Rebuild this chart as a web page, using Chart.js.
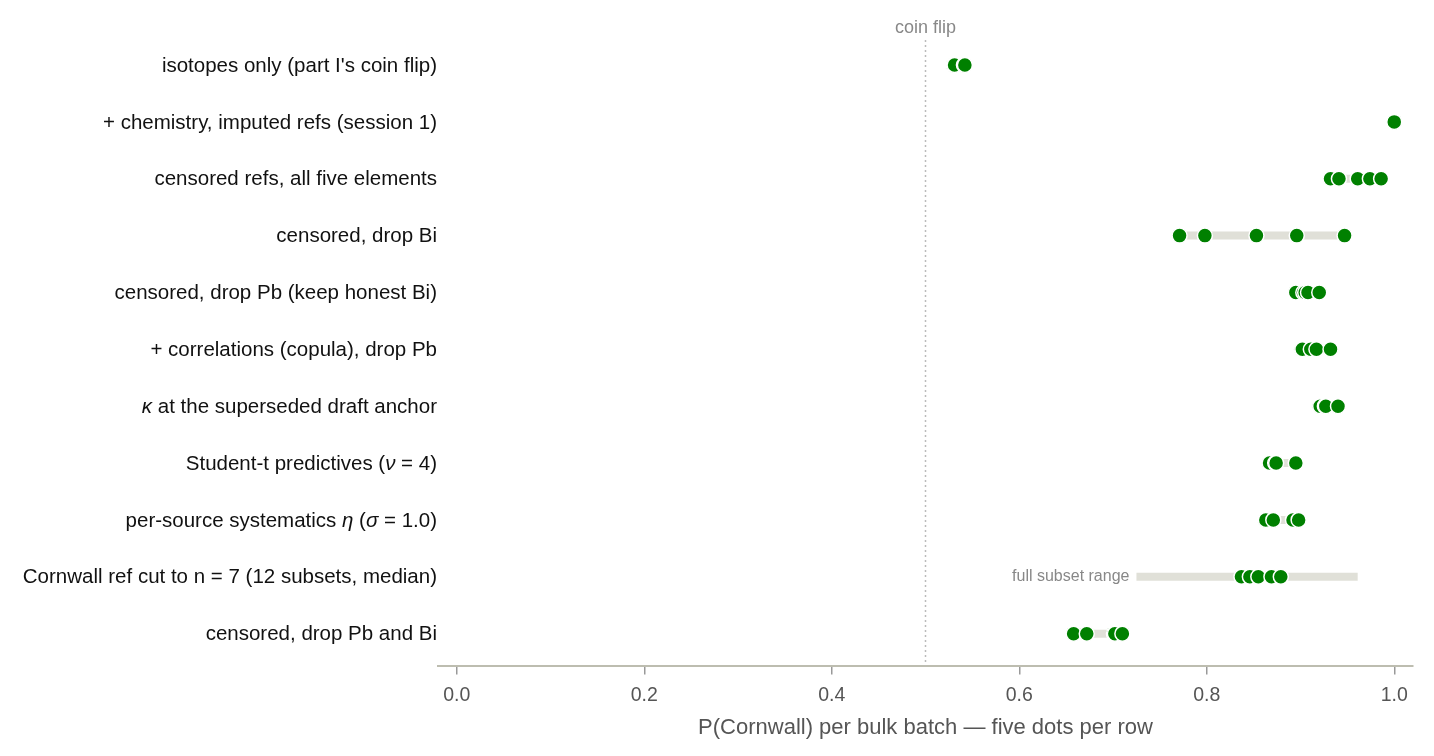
<!DOCTYPE html>
<html>
<head>
<meta charset="utf-8">
<script src="https://cdn.jsdelivr.net/npm/chart.js@4.4.1/dist/chart.umd.min.js"></script>
<style>
  body { margin: 0; background: #fff; }
  #wrap { width: 1434px; height: 756px; position: relative; }
</style>
</head>
<body>
<div id="wrap"><canvas id="dotChart"></canvas></div>
<script>
// rows, top to bottom; *...* marks italic pieces
const rowLabels = [
    "isotopes only (part I's coin flip)",
    "+ chemistry, imputed refs (session 1)",
    "censored refs, all five elements",
    "censored, drop Bi",
    "censored, drop Pb (keep honest Bi)",
    "+ correlations (copula), drop Pb",
    "*κ* at the superseded draft anchor",
    "Student-t predictives (*ν* = 4)",
    "per-source systematics *η* (*σ* = 1.0)",
    "Cornwall ref cut to n = 7 (12 subsets, median)",
    "censored, drop Pb and Bi"
];

// P(Cornwall), one value per bulk batch
const batchProbs = [
    [0.529, 0.530, 0.531, 0.541, 0.542],
    [1.000, 1.000, 1.000, 1.000, 1.000],
    [0.932, 0.941, 0.961, 0.974, 0.986],
    [0.771, 0.798, 0.853, 0.896, 0.947],
    [0.895, 0.903, 0.905, 0.908, 0.920],
    [0.901, 0.902, 0.911, 0.917, 0.932],
    [0.920, 0.921, 0.926, 0.927, 0.940],
    [0.866, 0.867, 0.873, 0.874, 0.895],
    [0.862, 0.863, 0.871, 0.892, 0.898],
    [0.837, 0.846, 0.855, 0.869, 0.879],
    [0.658, 0.672, 0.701, 0.702, 0.710]
];

const subsetRow = 9;
const subsetRange = [0.725, 0.961];
const xTicks = [0, 0.2, 0.4, 0.6, 0.8, 1.0];
const coinFlip = 0.5;

const FONT = '"Liberation Sans", Arial, Helvetica, sans-serif';
const GREEN = '#008000';
const BAR = '#e0e0d8';

const datasets = [];

// grey range bars sit behind the dots (higher order = drawn first)
datasets.push({
    type: 'line',
    order: 2,
    data: [{ x: subsetRange[0], y: subsetRow }, { x: subsetRange[1], y: subsetRow }],
    borderColor: BAR,
    borderWidth: 8,
    borderCapStyle: 'butt',
    pointRadius: 0
});

batchProbs.forEach((vals, i) => {
    datasets.push({
        type: 'line',
        order: 2,
        data: [{ x: Math.min(...vals), y: i }, { x: Math.max(...vals), y: i }],
        borderColor: BAR,
        borderWidth: 8,
        borderCapStyle: 'butt',
        pointRadius: 0
    });
});

batchProbs.forEach((vals, i) => {
    datasets.push({
        type: 'scatter',
        order: 1,
        data: vals.map(v => ({ x: v, y: i })),
        backgroundColor: GREEN,
        borderColor: '#ffffff',
        borderWidth: 1.5,
        pointRadius: 7.5,
        pointHoverRadius: 7.5
    });
});

const annotate = {
    id: 'annotate',
    beforeDatasetsDraw(chart) {
        const { ctx, chartArea } = chart;
        const x = chart.scales.x.getPixelForValue(coinFlip);
        ctx.save();
        ctx.strokeStyle = '#bbbbbb';
        ctx.lineWidth = 1.5;
        ctx.setLineDash([2, 3]);
        ctx.beginPath();
        ctx.moveTo(x, chartArea.top);
        ctx.lineTo(x, chartArea.bottom);
        ctx.stroke();
        ctx.restore();
    },
    afterDraw(chart) {
        const { ctx } = chart;
        const xs = chart.scales.x, ys = chart.scales.y;
        ctx.save();
        ctx.textBaseline = 'middle';

        ctx.fillStyle = '#888888';
        ctx.font = '18px ' + FONT;
        ctx.textAlign = 'center';
        ctx.fillText('coin flip', xs.getPixelForValue(coinFlip), 28);

        ctx.font = '16px ' + FONT;
        ctx.textAlign = 'right';
        ctx.fillText('full subset range', xs.getPixelForValue(subsetRange[0]) - 7, ys.getPixelForValue(subsetRow));

        // row labels, right aligned, with italic greek letters
        ctx.fillStyle = '#111111';
        ctx.textAlign = 'left';
        rowLabels.forEach((lab, i) => {
            const parts = lab.split('*').map((t, k) => ({ t, it: k % 2 === 1 }));
            let w = 0;
            parts.forEach(p => {
                ctx.font = (p.it ? 'italic ' : '') + '20.5px ' + FONT;
                p.w = ctx.measureText(p.t).width;
                w += p.w;
            });
            let x = chart.chartArea.left - 1 - w;
            const y = ys.getPixelForValue(i) + 1;
            parts.forEach(p => {
                ctx.font = (p.it ? 'italic ' : '') + '20.5px ' + FONT;
                ctx.fillText(p.t, x, y);
                x += p.w;
            });
        });
        ctx.restore();
    }
};

new Chart(document.getElementById('dotChart'), {
    type: 'scatter',
    data: { datasets },
    options: {
        responsive: true,
        maintainAspectRatio: false,
        animation: false,
        events: [],
        layout: { padding: { left: 438, right: 21, top: 40, bottom: 17 } },
        plugins: { legend: { display: false }, tooltip: { enabled: false } },
        scales: {
            x: {
                type: 'linear',
                min: -0.02,
                max: 1.02,
                afterBuildTicks: axis => { axis.ticks = xTicks.map(v => ({ value: v })); },
                grid: { drawOnChartArea: false, drawTicks: true, tickLength: 9, color: '#999999', lineWidth: 1.5 },
                border: { color: '#bdbdb0', width: 2 },
                ticks: {
                    color: '#555555',
                    padding: 9,
                    font: { family: FONT, size: 19.5 },
                    callback: v => v.toFixed(1)
                },
                title: {
                    display: true,
                    text: 'P(Cornwall) per bulk batch — five dots per row',
                    color: '#555555',
                    font: { family: FONT, size: 22, lineHeight: 1.05 },
                    padding: { top: 0, bottom: 0 }
                }
            },
            y: {
                type: 'linear',
                reverse: true,
                min: -0.44,
                max: 10.56,
                display: false
            }
        }
    },
    plugins: [annotate]
});
</script>
</body>
</html>
